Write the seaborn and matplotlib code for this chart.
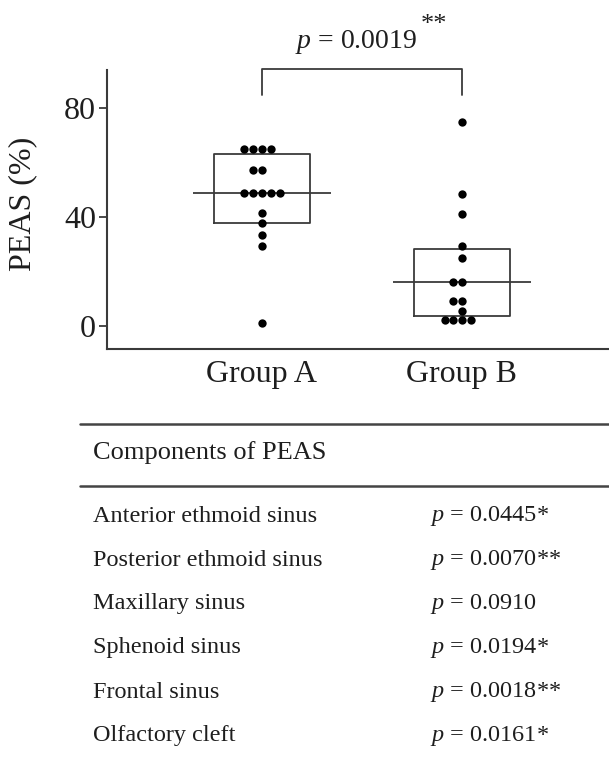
#!/usr/bin/env python3

import matplotlib
matplotlib.use('Agg')
import matplotlib.pyplot as plt
from matplotlib.lines import Line2D
import numpy as np
import pandas as pd
import seaborn as sns

# Data
groups = ['Group A', 'Group B']
group_a = [65, 65, 65, 65, 57, 57, 48.6, 48.6, 48.6, 48.6, 48.6,
           41.4, 37.6, 33.3, 29.4, 1.0]
group_b = [74.6, 48.4, 40.9, 29.5, 25.0, 16.0, 16.0, 9.2, 9.2, 5.6,
           2.2, 2.2, 2.2, 2.2]

# box statistics as drawn (lower edge, median, upper edge)
box_q1 = [37.9, 3.7]
box_med = [48.6, 16.2]
box_q3 = [62.9, 28.4]

main_p = '0.0019'
main_stars = '**'

components = ['Anterior ethmoid sinus', 'Posterior ethmoid sinus',
              'Maxillary sinus', 'Sphenoid sinus', 'Frontal sinus',
              'Olfactory cleft']
comp_p = ['0.0445*', '0.0070**', '0.0910', '0.0194*', '0.0018**', '0.0161*']


def main():
    sns.set_style('ticks')
    plt.rcParams['font.family'] = ['Liberation Serif', 'DejaVu Serif']
    plt.rcParams['mathtext.fontset'] = 'custom'
    plt.rcParams['mathtext.it'] = 'Liberation Serif:italic'
    plt.rcParams['mathtext.rm'] = 'Liberation Serif'

    W, H = 609, 758
    fig = plt.figure(figsize=(W / 100, H / 100), dpi=100)
    ax = fig.add_axes([107 / W, 1 - 349 / H, (W - 107) / W, (349 - 70) / H])

    df = pd.DataFrame({
        'group': ['Group A'] * len(group_a) + ['Group B'] * len(group_b),
        'peas': group_a + group_b,
    })

    ink = '#1e1e1e'
    line_c = '#3a3a3a'

    # boxes (no whiskers), median drawn wider than the box
    stats = []
    for q1, med, q3 in zip(box_q1, box_med, box_q3):
        stats.append({'q1': q1, 'med': med, 'q3': q3,
                      'whislo': q1, 'whishi': q3, 'fliers': []})
    ax.bxp(stats, positions=[0, 1], widths=0.48, showcaps=False,
           showfliers=False, patch_artist=False,
           boxprops=dict(color=line_c, linewidth=1.3),
           whiskerprops=dict(linewidth=0),
           medianprops=dict(linewidth=0))
    ax.hlines(box_med, np.arange(2) - 0.345, np.arange(2) + 0.345,
              color=line_c, linewidth=1.3)

    sns.swarmplot(data=df, x='group', y='peas', order=groups, color='black',
                  size=6, linewidth=0, ax=ax)

    ax.set_xlim(-0.775, 1.735)
    ax.set_ylim(-8.4, 93.8)
    ax.set_yticks([0, 40, 80])
    ax.set_xticks([0, 1])
    ax.set_xticklabels(groups)
    ax.set_xlabel('')
    ax.set_ylabel('PEAS (%)', fontsize=23, color=ink)
    ax.yaxis.set_label_coords(-0.14, 0.52)
    ax.tick_params(axis='y', labelsize=23, length=6, width=1.3,
                   color=line_c, labelcolor=ink, pad=2)
    ax.tick_params(axis='x', labelsize=23, length=0, labelcolor=ink, pad=8)
    sns.despine(ax=ax)
    for s in ['left', 'bottom']:
        ax.spines[s].set_linewidth(1.5)
        ax.spines[s].set_color(line_c)

    # significance bracket
    ax.plot([0, 0, 1, 1], [84.6, 94.1, 94.1, 84.6], color=line_c,
            linewidth=1.3, clip_on=False)
    fig.text(356 / W, 1 - 48 / H, r'$p$ = ' + main_p, fontsize=20,
             ha='center', va='baseline', color=ink)
    fig.text(421 / W, 1 - 31 / H, main_stars, fontsize=19,
             ha='left', va='baseline', color=ink)

    # table of component p-values
    for y in [424, 486]:
        fig.add_artist(Line2D([80 / W, 1.0], [1 - y / H, 1 - y / H],
                              color='#444444', linewidth=1.8))
    fig.text(93 / W, 1 - 453 / H, 'Components of PEAS', fontsize=19,
             ha='left', va='center', color=ink)
    row_y = [516, 560, 604, 648, 692, 736]
    for y, name, p in zip(row_y, components, comp_p):
        fig.text(93 / W, 1 - y / H, name, fontsize=17.5,
                 ha='left', va='center', color=ink)
        fig.text(430 / W, 1 - y / H, r'$p$ = ' + p, fontsize=17.5,
                 ha='left', va='center', color=ink)

    fig.savefig('out.png', dpi=100)


if __name__ == "__main__":
    main()
